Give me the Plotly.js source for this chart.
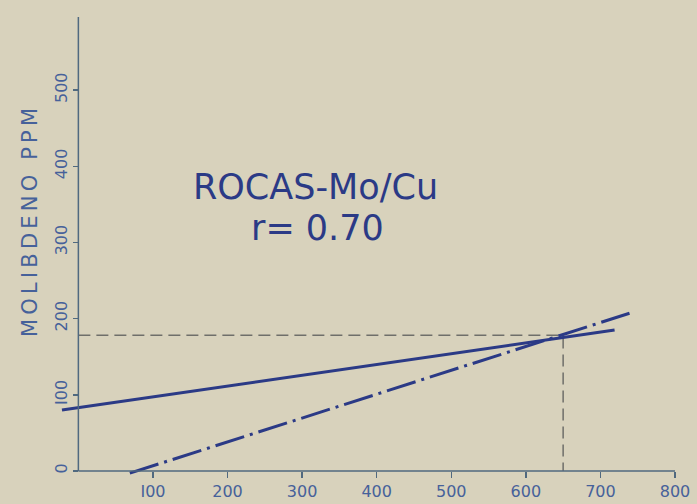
<!DOCTYPE html>
<html>
<head>
<meta charset="utf-8">
<script src="https://cdn.plot.ly/plotly-3.0.1.min.js"></script>
<style>
html,body{margin:0;padding:0;background:#d8d2bc;}
#chart{width:697px;height:504px;}
</style>
</head>
<body>
<div id="chart"></div>
<script>
// Data
const solidX = [-22, 719];
const solidY = [80, 185];
const dashDotX = [69, 739];
const dashDotY = [-3, 207];
const guideX = [0, 650, 650];
const guideY = [178, 178, 0];
const xTickVals = [100, 200, 300, 400, 500, 600, 700, 800];
const xTickText = ['I00', '200', '300', '400', '500', '600', '700', '800'];
const yTickVals = [0, 100, 200, 300, 400, 500];
const yTickText = ['0', 'I00', '200', '300', '400', '500'];
const titleLines = ['ROCAS-Mo/Cu', 'r= 0.70'];
const yTitle = 'MOLIBDENO PPM';

const xRange = [-30, 800];
const yRange = [-8, 596];

const navy = '#2b3a86';
const axisCol = '#50697f';
const labelCol = '#46619a';
const guideCol = '#6f6f6a';

const spaced = s => s.split('').join('\u2009');

const traces = [
  {x: guideX, y: guideY, mode: 'lines', line: {color: guideCol, width: 1.5, dash: '12px,6px'}, hoverinfo: 'skip'},
  {x: solidX, y: solidY, mode: 'lines', line: {color: navy, width: 3}},
  {x: dashDotX, y: dashDotY, mode: 'lines', line: {color: navy, width: 3, dash: '30px,6px,3px,6px'}}
];

const layout = {
  width: 697, height: 504,
  margin: {l: 56, r: 22, t: 17, b: 27},
  paper_bgcolor: '#d8d2bc',
  plot_bgcolor: '#d8d2bc',
  showlegend: false,
  font: {family: 'DejaVu Sans', color: labelCol},
  xaxis: {
    range: xRange, showgrid: false, zeroline: false, showline: false,
    anchor: 'free', position: (0 - yRange[0]) / (yRange[1] - yRange[0]),
    tickmode: 'array', tickvals: xTickVals, ticktext: xTickText,
    ticks: 'outside', ticklen: 6, tickwidth: 1.5, tickcolor: axisCol,
    tickfont: {size: 16, color: labelCol, family: 'DejaVu Sans'}
  },
  yaxis: {
    range: yRange, showgrid: false, zeroline: false, showline: false,
    anchor: 'free', position: (0 - xRange[0]) / (xRange[1] - xRange[0]),
    tickmode: 'array', tickvals: yTickVals, ticktext: yTickText, tickangle: -90,
    ticks: 'outside', ticklen: 5, tickwidth: 1.5, tickcolor: axisCol,
    tickfont: {size: 16, color: labelCol, family: 'DejaVu Sans'}
  },
  shapes: [
    {type: 'line', xref: 'x', yref: 'y', x0: 0, x1: xRange[1], y0: 0, y1: 0, line: {color: axisCol, width: 1.5}},
    {type: 'line', xref: 'x', yref: 'y', x0: 0, x1: 0, y0: 0, y1: yRange[1], line: {color: axisCol, width: 1.5}}
  ],
  annotations: [
    {xref: 'paper', yref: 'paper', x: 0.419, y: 0.630, text: titleLines[0], showarrow: false,
     font: {size: 35, color: navy, family: 'DejaVu Sans'}, xanchor: 'center', yanchor: 'middle'},
    {xref: 'paper', yref: 'paper', x: 0.422, y: 0.541, text: titleLines[1], showarrow: false,
     font: {size: 35, color: navy, family: 'DejaVu Sans'}, xanchor: 'center', yanchor: 'middle'},
    {xref: 'paper', yref: 'paper', x: -0.043, y: 0.553, text: spaced(yTitle), showarrow: false, textangle: -90,
     font: {size: 21, color: labelCol, family: 'DejaVu Sans'}, xanchor: 'center', yanchor: 'middle'}
  ]
};

Plotly.newPlot('chart', traces, layout, {displayModeBar: false, staticPlot: true});
</script>
</body>
</html>
